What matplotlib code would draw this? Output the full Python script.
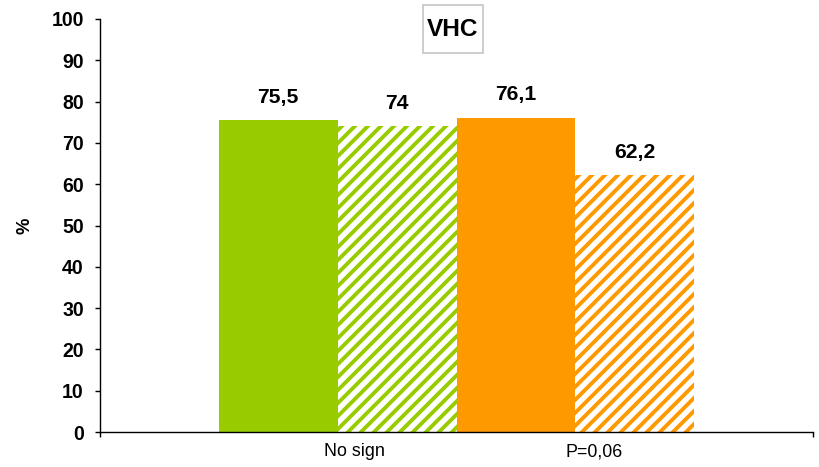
import numpy as np
import matplotlib.pyplot as plt
import matplotlib.transforms as mtransforms
from matplotlib.patches import Rectangle

# chart data
values = [75.5, 74, 76.1, 62.2]
value_labels = ["75,5", "74", "76,1", "62,2"]
bar_colors = ["#99CC00", "#99CC00", "#FF9900", "#FF9900"]
bar_hatched = [False, True, False, True]
group_labels = ["No sign", "P=0,06"]
group_label_x = [-0.86, 1.16]
y_ticks = [0, 10, 20, 30, 40, 50, 60, 70, 80, 90, 100]

DPI = 78
W, H = 819, 467
plt.rcParams['font.family'] = ['Liberation Sans', 'DejaVu Sans']
plt.rcParams['hatch.linewidth'] = 3.6

fig = plt.figure(figsize=(W / DPI, H / DPI), dpi=DPI)
ax = fig.add_axes([100 / W, (H - 432) / H, (813 - 100) / W, (432 - 19) / H])

x = np.arange(len(values)) - 1.5
for xi, v, c, hatched in zip(x, values, bar_colors, bar_hatched):
    if hatched:
        ax.bar(xi, v, width=1.0, facecolor="white", edgecolor=c,
               hatch="//", linewidth=0)
    else:
        ax.bar(xi, v, width=1.0, color=c, linewidth=0)

for xi, v, lab in zip(x, values, value_labels):
    ax.annotate(lab, (xi, v), xytext=(0, 21), textcoords="offset points",
                ha="center", va="center", fontsize=19.5, fontweight="bold")

ax.set_xlim(-3, 3)
ax.set_ylim(0, 100)
ax.set_yticks(y_ticks)
ax.set_yticklabels([str(t) for t in y_ticks], fontsize=18, fontweight="bold")
ax.tick_params(axis="y", direction="out", length=5, width=1.3, pad=10)
ax.set_xticks([-3, 3])
ax.set_xticklabels(["", ""])
ax.tick_params(axis="x", direction="out", length=5, width=1.3)

for side in ["top", "right"]:
    ax.spines[side].set_visible(False)
for side in ["left", "bottom"]:
    ax.spines[side].set_linewidth(1.3)

trans = mtransforms.blended_transform_factory(ax.transData, ax.transAxes)
for gx, gl in zip(group_label_x, group_labels):
    ax.text(gx, -0.048, gl, transform=trans, ha="center", va="center",
            fontsize=16.5, clip_on=False)

fig.text(25 / W, 1 - 226 / H, "%", rotation=90, ha="center", va="center",
         fontsize=17, fontweight="bold")

# title box
fig.patches.append(Rectangle((423 / W, 1 - 53 / H), 60 / W, 48 / H,
                             transform=fig.transFigure, facecolor="white",
                             edgecolor="#BFBFBF", linewidth=1.4))
fig.text(453 / W, 1 - 29 / H, "VHC", ha="center", va="center",
         fontsize=22.5, fontweight="bold")

fig.savefig("out.png", dpi=DPI)
